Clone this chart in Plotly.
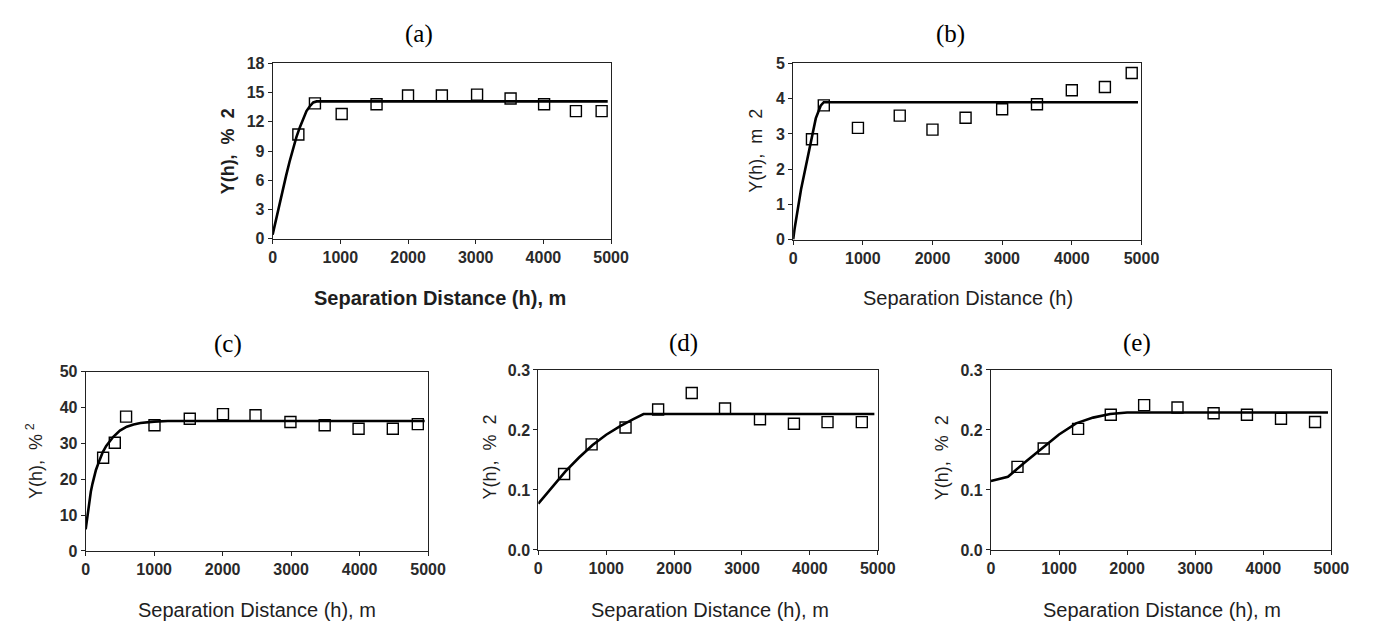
import plotly.graph_objects as go

W, H = 1373, 628

# ---------------- data ----------------
# (a)
a_lag = [380, 625, 1020, 1535, 2000, 2500, 3020, 3515, 4010, 4480, 4860]
a_gam = [10.7, 13.9, 12.8, 13.8, 14.7, 14.7, 14.8, 14.4, 13.8, 13.1, 13.1]
a_fit_x = [0, 50, 100, 150, 200, 250, 300, 350, 400, 450, 500, 550, 600, 650, 4950]
a_fit_y = [0.4, 2.0, 3.5, 5.1, 6.5, 7.9, 9.2, 10.4, 11.4, 12.3, 13.1, 13.6, 14.0, 14.1, 14.1]
a_yticks = [0, 3, 6, 9, 12, 15, 18]

# (b)
b_lag = [270, 440, 930, 1530, 2000, 2475, 3000, 3500, 4000, 4475, 4860]
b_gam = [2.85, 3.81, 3.17, 3.52, 3.12, 3.46, 3.70, 3.84, 4.24, 4.33, 4.73]
b_fit_x = [0, 20, 113, 231, 325, 395, 440, 4950]
b_fit_y = [0.0, 0.3, 1.42, 2.52, 3.44, 3.80, 3.90, 3.90]
b_yticks = [0, 1, 2, 3, 4, 5]

# (c)
c_lag = [255, 425, 590, 1005, 1520, 2005, 2480, 2990, 3490, 3985, 4485, 4850]
c_gam = [26.0, 30.2, 37.5, 35.1, 36.9, 38.2, 37.9, 36.0, 35.1, 34.1, 34.1, 35.4]
c_fit_x = [0, 25, 50, 75, 100, 150, 200, 250, 300, 350, 400, 500, 600, 700, 800, 1000, 1200, 4950]
c_fit_y = [6.0, 10.0, 13.5, 16.5, 18.8, 22.6, 25.2, 27.6, 29.3, 30.7, 31.8, 33.6, 34.7, 35.3, 35.7, 36.1, 36.3, 36.3]
c_yticks = [0, 10, 20, 30, 40, 50]

# (d)
d_lag = [380, 785, 1285, 1765, 2260, 2750, 3265, 3765, 4260, 4765]
d_gam = [0.1265, 0.176, 0.204, 0.234, 0.2616, 0.2357, 0.2178, 0.2103, 0.213, 0.213]
d_fit_x = [0, 200, 400, 600, 800, 1000, 1200, 1400, 1550, 4950]
d_fit_y = [0.077, 0.104, 0.131, 0.154, 0.175, 0.192, 0.206, 0.218, 0.2265, 0.2265]

# (e)
e_lag = [390, 775, 1280, 1760, 2250, 2740, 3270, 3760, 4260, 4760]
e_gam = [0.1385, 0.169, 0.2018, 0.2252, 0.2414, 0.2375, 0.2278, 0.2252, 0.2187, 0.2132]
e_fit_x = [0, 250, 500, 750, 1000, 1250, 1500, 1750, 2000, 4950]
e_fit_y = [0.115, 0.122, 0.146, 0.169, 0.1925, 0.211, 0.2205, 0.2265, 0.229, 0.229]

de_yticks = [0.0, 0.1, 0.2, 0.3]
x_ticks = [0, 1000, 2000, 3000, 4000, 5000]

panels = [
    dict(lag=a_lag, gam=a_gam, fx=a_fit_x, fy=a_fit_y, yr=[0, 18], yt_vals=a_yticks, fmt="{:d}",
         box=(273, 617, 57, 237), title="(a)", tpos=(422, 27),
         xt="Separation Distance (h), m", xtpos=(443, 298), xtbold=True,
         yt="Y(h),  %  2", ytpos=(228, 147), ytbold=True),
    dict(lag=b_lag, gam=b_gam, fx=b_fit_x, fy=b_fit_y, yr=[0, 5], yt_vals=b_yticks, fmt="{:d}",
         box=(802, 1156, 57, 238), title="(b)", tpos=(962, 27),
         xt="Separation Distance (h)", xtpos=(980, 298), xtbold=False,
         yt="Y(h),  m  2", ytpos=(764, 147), ytbold=False),
    dict(lag=c_lag, gam=c_gam, fx=c_fit_x, fy=c_fit_y, yr=[0, 50], yt_vals=c_yticks, fmt="{:d}",
         box=(83, 431, 374, 558), title="(c)", tpos=(228, 345),
         xt="Separation Distance (h), m", xtpos=(257, 619), xtbold=False,
         yt="Y(h),  %<sup> 2</sup>", ytpos=(31, 466), ytbold=False),
    dict(lag=d_lag, gam=d_gam, fx=d_fit_x, fy=d_fit_y, yr=[0, 0.3], yt_vals=de_yticks, fmt="{:.1f}",
         box=(543, 888, 372, 557), title="(d)", tpos=(691, 344),
         xt="Separation Distance (h), m", xtpos=(717, 619), xtbold=False,
         yt="Y(h),  %  2", ytpos=(494, 462), ytbold=False),
    dict(lag=e_lag, gam=e_gam, fx=e_fit_x, fy=e_fit_y, yr=[0, 0.3], yt_vals=de_yticks, fmt="{:.1f}",
         box=(1003, 1349, 372, 557), title="(e)", tpos=(1151, 344),
         xt="Separation Distance (h), m", xtpos=(1177, 619), xtbold=False,
         yt="Y(h),  %  2", ytpos=(954, 462), ytbold=False),
]

fig = go.Figure()
annotations = []
TXT = "#1e1e1e"
SANS = "Liberation Sans, Arial"

for i, p in enumerate(panels, start=1):
    xs = "" if i == 1 else str(i)
    xa, ya = "x" + xs, "y" + xs
    fig.add_trace(go.Scatter(x=p["fx"], y=p["fy"], mode="lines",
                             line=dict(color="black", width=2.6),
                             xaxis=xa, yaxis=ya, showlegend=False, hoverinfo="skip"))
    fig.add_trace(go.Scatter(x=p["lag"], y=p["gam"], mode="markers",
                             marker=dict(symbol="square-open", size=11, color="black",
                                         line=dict(width=1.4, color="black")),
                             xaxis=xa, yaxis=ya, showlegend=False))
    x0, x1, y0, y1 = p["box"]
    common = dict(showline=True, linecolor="#222", linewidth=1, mirror=True,
                  showgrid=False, zeroline=False, ticks="outside", ticklen=4,
                  tickcolor="#222", tickwidth=1,
                  tickfont=dict(family=SANS, size=16, color="#2a2a2a", weight="bold"))
    fig.update_layout(**{
        "xaxis" + xs: dict(domain=[x0 / W, x1 / W], anchor=ya, range=[0, 5000],
                           tickvals=x_ticks,
                           ticktext=["<b>%d</b>" % v for v in x_ticks], **common),
        "yaxis" + xs: dict(domain=[1 - y1 / H, 1 - y0 / H], anchor=xa, range=p["yr"],
                           tickvals=p["yt_vals"],
                           ticktext=["<b>" + p["fmt"].format(v) + "</b>" for v in p["yt_vals"]],
                           **common),
    })
    annotations.append(dict(text=p["title"], x=p["tpos"][0] / W, y=1 - p["tpos"][1] / H,
                            xref="paper", yref="paper", showarrow=False,
                            xanchor="center", yanchor="middle",
                            font=dict(family="Liberation Serif, Times New Roman", size=25, color="black")))
    annotations.append(dict(text=p["xt"], x=p["xtpos"][0] / W, y=1 - p["xtpos"][1] / H,
                            xref="paper", yref="paper", showarrow=False,
                            xanchor="center", yanchor="middle",
                            font=dict(family=SANS, size=20, color=TXT,
                                      weight="bold" if p["xtbold"] else "normal")))
    annotations.append(dict(text=p["yt"], x=p["ytpos"][0] / W, y=1 - p["ytpos"][1] / H,
                            xref="paper", yref="paper", showarrow=False, textangle=-90,
                            xanchor="center", yanchor="middle",
                            font=dict(family=SANS, size=18, color=TXT,
                                      weight="bold" if p["ytbold"] else "normal")))

fig.update_layout(width=W, height=H, margin=dict(l=0, r=0, t=0, b=0),
                  paper_bgcolor="white", plot_bgcolor="white",
                  annotations=annotations, showlegend=False)

fig.write_html("out.html")
